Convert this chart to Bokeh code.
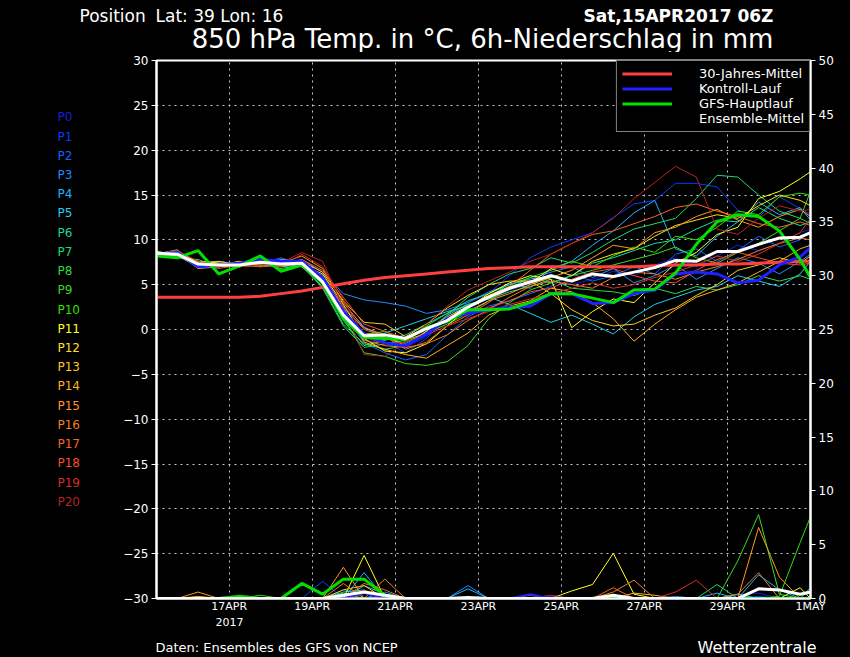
from bokeh.plotting import figure
from bokeh.layouts import column, row
from bokeh.models import Range1d, LinearAxis, FixedTicker, Legend, LegendItem
from bokeh.core.properties import value
from bokeh.embed import file_html
from bokeh.resources import INLINE

# ---------------- data ----------------
# time in "day of April 2017" (UTC), 12-hourly from 15APR 06Z to 1MAY 00Z
days = [15.25, 15.75, 16.25, 16.75, 17.25, 17.75, 18.25, 18.75, 19.25, 19.75,
        20.25, 20.75, 21.25, 21.75, 22.25, 22.75, 23.25, 23.75, 24.25, 24.75,
        25.25, 25.75, 26.25, 26.75, 27.25, 27.75, 28.25, 28.75, 29.25, 29.75,
        30.25, 30.75, 31.0]

date_ticks = [17, 19, 21, 23, 25, 27, 29, 31]
date_labels = ["17APR", "19APR", "21APR", "23APR", "25APR", "27APR", "29APR", "1MAY"]
temp_ticks = [-30, -25, -20, -15, -10, -5, 0, 5, 10, 15, 20, 25, 30]
rain_ticks = [0, 5, 10, 15, 20, 25, 30, 35, 40, 45, 50]

member_names = ["P0", "P1", "P2", "P3", "P4", "P5", "P6", "P7", "P8", "P9", "P10",
                "P11", "P12", "P13", "P14", "P15", "P16", "P17", "P18", "P19", "P20"]
member_colors = ["#1c1cd8", "#0a3cff", "#1464ff", "#1e8cff", "#20b4ff", "#20d0e8",
                 "#20d8a0", "#20d870", "#30d848", "#3cd828", "#30e000", "#ffff20",
                 "#ffe020", "#ffc820", "#ffb020", "#ff9820", "#f08020", "#f06820",
                 "#f05030", "#d83020", "#b82020"]

# 850 hPa temperature (deg C) of the ensemble members
t00 = [8.3, 8.6, 7.0, 7.4, 7.0, 7.8, 7.2, 7.6, 5.0, 1.2, -1.2, -1.5, -2.0, -0.8, 0.8, 2.2, 3.0, 4.4, 5.0, 6.2, 5.0, 5.6, 6.5, 6.0, 7.2, 8.0, 7.0, 8.2, 9.4, 8.8, 9.6, 10.8, 11.2]
t01 = [8.6, 8.2, 7.4, 7.0, 7.6, 7.2, 7.9, 7.0, 6.0, 2.6, 0.4, -1.4, -2.6, -1.0, 1.2, 3.0, 4.0, 6.0, 8.0, 9.2, 10.0, 10.8, 12.5, 14.0, 14.4, 16.3, 16.3, 15.9, 13.3, 12.5, 14.8, 13.5, 12.8]
t02 = [8.4, 8.8, 7.2, 7.6, 7.3, 7.4, 8.0, 7.2, 5.4, 1.8, -1.5, -2.6, -3.4, -2.8, -0.6, 1.4, 2.6, 3.2, 4.0, 4.8, 6.2, 5.4, 6.0, 7.0, 6.2, 8.4, 9.0, 7.6, 8.8, 10.4, 9.2, 10.0, 11.0]
t03 = [8.2, 8.4, 7.6, 7.2, 7.4, 7.0, 7.4, 7.8, 6.4, 4.0, 3.3, 3.0, 2.6, 1.8, 2.2, 3.0, 4.2, 5.0, 5.6, 6.4, 7.0, 5.8, 6.8, 5.2, 6.0, 7.2, 5.6, 6.8, 8.0, 7.4, 6.2, 7.6, 8.4]
t04 = [8.5, 8.2, 7.0, 7.0, 7.2, 7.6, 7.0, 7.2, 5.8, 2.4, 0.2, -0.8, -1.6, -0.2, 1.6, 2.8, 3.4, 5.2, 4.6, 6.8, 7.6, 9.4, 11.0, 13.0, 14.4, 9.0, 8.2, 10.4, 12.0, 14.2, 12.8, 13.6, 12.2]
t05 = [8.6, 8.5, 7.2, 7.3, 7.0, 7.4, 7.6, 7.0, 5.6, 1.4, -1.0, -0.4, 0.4, 1.2, 2.0, 2.6, 3.6, 2.8, 1.8, 0.8, 1.6, 0.6, -0.5, 1.4, 2.8, 3.6, 4.4, 4.8, 6.0, 5.4, 4.8, 6.2, 7.6]
t06 = [8.7, 8.3, 7.6, 7.4, 7.2, 7.2, 7.2, 7.6, 5.2, 1.0, -1.8, -1.2, -0.6, 0.6, 1.8, 3.2, 4.0, 5.0, 5.8, 5.2, 6.0, 7.4, 8.0, 8.8, 9.6, 10.0, 11.2, 12.2, 12.0, 13.6, 12.4, 11.6, 12.0]
t07 = [8.8, 8.0, 7.8, 7.0, 7.4, 7.6, 7.4, 7.0, 4.8, 0.6, -1.6, -2.2, -1.8, -0.6, 1.6, 3.6, 5.0, 6.2, 6.8, 8.0, 7.4, 8.6, 10.0, 11.2, 11.8, 12.4, 14.6, 17.2, 17.0, 15.0, 13.2, 12.4, 11.8]
t08 = [8.4, 8.9, 7.0, 7.2, 7.0, 7.4, 6.8, 7.2, 4.6, 0.4, -2.0, -1.6, -1.2, 0.4, 1.8, 2.8, 3.4, 4.2, 4.8, 5.6, 4.6, 4.4, 4.2, 3.8, 4.6, 4.0, 4.8, 4.4, 5.0, 6.0, 5.4, 6.0, 5.6]
t09 = [8.6, 8.3, 7.4, 7.6, 7.2, 7.0, 7.2, 7.4, 5.0, 1.4, -2.6, -3.0, -3.8, -4.0, -3.6, -1.8, 1.2, 3.0, 4.4, 5.2, 6.0, 6.6, 7.2, 7.8, 8.4, 9.2, 8.0, 7.4, 8.6, 9.6, 11.0, 12.4, 15.4]
t10 = [8.5, 8.6, 7.2, 7.0, 7.4, 7.2, 7.0, 7.6, 5.6, 2.0, -0.6, -0.2, -1.4, -0.4, 0.6, 1.8, 3.2, 4.6, 5.8, 6.6, 7.6, 7.0, 8.2, 9.2, 8.6, 10.4, 10.0, 11.4, 13.2, 12.8, 14.8, 15.2, 15.0]
t11 = [8.3, 8.6, 7.6, 7.4, 7.0, 7.6, 7.4, 7.2, 6.2, 2.8, -1.0, -2.4, -2.6, -1.6, 0.4, 2.4, 4.0, 5.2, 6.0, 5.6, 0.2, 2.0, 3.4, 3.0, 5.2, 7.4, 8.6, 10.6, 11.4, 14.6, 15.4, 16.8, 17.6]
t12 = [8.2, 8.4, 7.0, 7.2, 7.6, 7.4, 7.6, 7.0, 5.4, 1.6, -0.4, -0.8, -1.8, -0.2, 1.4, 2.6, 3.8, 4.8, 5.2, 6.8, 6.0, 7.6, 8.4, 9.0, 10.4, 11.6, 12.2, 12.8, 12.4, 13.8, 15.0, 14.4, 13.8]
t13 = [8.6, 8.2, 7.4, 7.6, 7.2, 7.2, 7.8, 7.6, 6.4, 3.2, 0.8, 0.6, -0.8, 0.6, 2.4, 3.8, 5.0, 5.4, 5.4, 4.0, 2.2, 1.0, 0.4, 0.6, 1.6, 2.4, 3.8, 5.0, 6.6, 7.2, 8.0, 7.4, 8.2]
t14 = [8.4, 8.5, 6.8, 7.0, 7.2, 7.8, 7.0, 7.4, 6.0, 2.4, -1.4, -2.2, -2.8, -3.2, -1.8, -0.4, 1.6, 2.6, 3.2, 4.6, 4.2, 3.0, 1.2, -1.3, 0.6, 2.2, 3.6, 4.4, 5.2, 6.4, 7.6, 9.0, 9.4]
t15 = [8.5, 8.7, 7.2, 7.2, 7.0, 7.2, 7.4, 8.2, 6.8, 3.0, 0.2, -0.6, -1.2, -0.4, 1.0, 2.0, 3.2, 4.0, 5.0, 5.8, 6.6, 8.0, 9.4, 9.0, 10.8, 11.4, 12.6, 13.4, 12.2, 11.4, 12.6, 13.4, 12.6]
t16 = [8.7, 8.3, 7.0, 7.4, 7.4, 7.4, 7.2, 7.6, 5.6, 2.2, -1.2, -1.8, -2.0, -1.6, -0.6, 1.0, 2.2, 3.6, 4.8, 5.4, 5.0, 4.6, 5.8, 6.4, 6.2, 5.6, 6.4, 7.0, 7.8, 8.8, 9.6, 10.2, 10.0]
t17 = [8.4, 8.6, 7.4, 7.2, 7.0, 7.6, 7.6, 7.2, 5.8, 2.6, 0.0, -0.8, -2.2, -1.4, 0.4, 1.6, 3.0, 4.8, 6.6, 8.4, 9.6, 10.6, 11.0, 11.8, 12.6, 13.6, 14.0, 13.2, 12.6, 11.8, 11.4, 12.0, 11.6]
t18 = [8.6, 8.4, 7.2, 6.8, 7.2, 7.0, 7.2, 7.8, 6.6, 3.6, 0.6, -0.2, -1.0, 0.2, 1.2, 2.2, 2.4, 3.2, 4.2, 4.6, 5.6, 6.4, 6.8, 6.0, 5.4, 5.2, 6.6, 7.8, 8.6, 8.0, 7.4, 7.2, 7.4]
t19 = [8.5, 8.8, 7.6, 7.2, 7.4, 7.4, 7.0, 8.4, 7.0, 3.4, -0.8, -1.6, -1.4, -0.6, 0.4, 1.2, 2.0, 2.8, 3.4, 4.0, 4.6, 5.2, 4.6, 5.0, 5.8, 6.4, 7.2, 8.2, 7.6, 8.4, 9.6, 10.8, 12.4]
t20 = [8.3, 8.4, 7.0, 7.2, 7.0, 7.2, 7.4, 8.6, 7.6, 2.4, -2.8, -3.0, -1.4, 0.6, 2.6, 4.4, 5.4, 6.4, 7.6, 8.4, 9.6, 10.8, 12.4, 14.6, 16.4, 18.2, 17.0, 11.2, 10.6, 12.4, 13.8, 13.2, 13.4]
member_temps = [t00, t01, t02, t03, t04, t05, t06, t07, t08, t09, t10,
                t11, t12, t13, t14, t15, t16, t17, t18, t19, t20]

# 6h precipitation (mm) of the ensemble members
r00 = [0, 0, 0, 0, 0, 0, 0, 0, 0, 0.4, 0.6, 0, 0, 0, 0, 0, 0, 0, 0, 0.2, 0, 0, 0, 0, 0, 0, 0, 0, 0.3, 0.5, 0, 0, 0]
r01 = [0, 0, 0, 0, 0, 0, 0, 0, 1.6, 0, 0, 0, 0, 0, 0, 0, 0, 0, 0, 0.3, 0, 0, 0, 0, 0, 0, 0, 0, 0, 0.2, 0, 0, 0]
r02 = [0, 0, 0, 0, 0, 0, 0, 0, 0, 0.8, 0.5, 0, 0, 0, 0, 0, 0, 0, 0, 0, 0, 0, 0, 0, 0, 0, 0, 0, 0, 0, 0, 0, 0]
r03 = [0, 0, 0, 0, 0, 0, 0, 0, 0, 0, 0, 0.6, 0, 0, 0, 1.2, 0, 0, 0, 0, 0, 0, 0, 0, 0, 0.2, 0, 0, 0, 0, 0, 0, 0]
r04 = [0, 0, 0, 0, 0, 0, 0, 0, 0, 0, 2.4, 0, 0, 0, 0, 0.9, 0, 0, 0, 0, 0, 0, 0, 0, 0, 0, 0, 0.5, 0, 2.2, 0.8, 0, 0]
r05 = [0, 0, 0, 0, 0, 0, 0, 0, 0, 0, 1.2, 0.4, 0, 0, 0, 0, 0, 0, 0, 0, 0, 0, 0, 0, 0, 0, 0, 0, 0, 0, 0, 0, 1.0]
r06 = [0, 0, 0, 0, 0, 0, 0, 0, 0, 0.6, 0.8, 0, 0, 0, 0, 0, 0, 0, 0, 0, 0, 0, 0, 0, 0, 0, 0, 0, 0.4, 0, 0, 0, 0]
r07 = [0, 0, 0, 0, 0, 0, 0, 0, 0, 0, 0.5, 0, 0, 0, 0, 0, 0, 0, 0, 0, 0, 0, 0, 0, 0, 0, 0, 1.3, 0, 0, 0, 0, 0]
r08 = [0, 0, 0, 0, 0.2, 0, 0, 0, 0, 0.5, 0, 0, 0, 0, 0, 0, 0, 0, 0, 0, 0, 0, 0, 0, 0, 0, 0, 0, 0, 0, 0, 0, 0]
r09 = [0, 0, 0, 0, 0, 0, 0, 0, 0, 0, 0, 0, 0, 0, 0, 0, 0, 0, 0, 0, 0, 0, 0, 0, 0, 0, 0, 0, 3.5, 7.8, 0.4, 0, 0]
r10 = [0, 0, 0, 0, 0, 0.3, 0, 0, 0, 0, 0, 0, 0, 0, 0, 0, 0, 0, 0, 0, 0, 0, 0, 0, 0, 0, 0, 0, 0, 0, 0.2, 5.2, 7.6]
r11 = [0, 0, 0, 0, 0, 0, 0, 0, 0, 0, 4.0, 0, 0, 0, 0, 0, 0, 0, 0, 0, 0.7, 1.3, 4.2, 0.4, 0, 0, 0, 0, 0, 0, 0, 1.0, 0]
r12 = [0, 0, 0, 0, 0, 0, 0, 0, 0, 0, 0.6, 0, 0, 0, 0, 0, 0, 0, 0, 0, 0, 0, 0, 0, 0, 0, 0, 0, 0, 0, 0, 0, 0]
r13 = [0, 0, 0, 0, 0, 0, 0, 0, 0, 0.8, 1.2, 0, 0, 0, 0, 0, 0, 0, 0, 0, 0, 0, 0, 0, 0, 0, 0, 0, 0, 0, 0, 0, 0]
r14 = [0, 0, 0.2, 0, 0, 0, 0, 0, 0, 0, 0, 0, 0, 0, 0, 0, 0, 0, 0, 0, 0, 0, 0, 0.5, 0.3, 0, 0, 0, 0, 0, 0, 0, 0]
r15 = [0, 0, 0.6, 0, 0, 0, 0, 0, 0, 2.9, 0, 0, 0, 0, 0, 0, 0, 0, 0, 0, 0, 0, 0, 0, 0, 0, 0, 0, 0, 6.6, 2.0, 0, 0]
r16 = [0, 0, 0, 0, 0, 0, 0, 0, 0, 1.4, 0, 1.8, 0, 0, 0, 0, 0, 0, 0, 0, 0, 0, 0.6, 1.7, 0, 0, 0, 0, 0.4, 2.4, 0, 0, 0]
r17 = [0, 0, 0, 0, 0, 0, 0, 0, 0, 0, 1.4, 0.8, 0, 0, 0, 0, 0, 0, 0, 0, 0, 0, 1.0, 0, 0, 0, 0, 0, 0, 0, 0, 0, 0]
r18 = [0, 0, 0, 0, 0, 0, 0, 0, 0, 0, 0.6, 0, 0, 0, 0, 0, 0, 0, 0.3, 0, 0, 0, 0, 0, 0, 0, 0, 0, 0, 0, 0, 0, 0]
r19 = [0, 0, 0, 0, 0, 0, 0, 0, 0, 0, 0, 0, 0, 0, 0, 0, 0, 0, 0, 0, 0, 0, 0, 0, 0, 0.6, 1.7, 0, 0, 0, 0, 0, 0]
r20 = [0, 0, 0, 0, 0, 0, 0, 0, 0, 0, 0.8, 0, 0, 0, 0, 0, 0, 0, 0, 0.3, 0, 0, 0, 0, 0, 0, 0, 0, 0, 0, 0, 0, 0]
member_rain = [r00, r01, r02, r03, r04, r05, r06, r07, r08, r09, r10,
               r11, r12, r13, r14, r15, r16, r17, r18, r19, r20]

# highlighted series
clim_temp = [3.6, 3.6, 3.6, 3.6, 3.6, 3.7, 4.0, 4.3, 4.7, 5.1, 5.5, 5.8, 6.0, 6.2, 6.4, 6.6, 6.8, 6.9, 7.0, 7.0, 7.0, 7.0, 7.0, 7.0, 7.1, 7.2, 7.2, 7.3, 7.3, 7.4, 7.5, 7.6, 7.6]
ctrl_temp = [8.4, 8.6, 7.0, 7.2, 7.4, 7.8, 7.6, 7.6, 5.8, 2.0, -0.5, -1.5, -1.8, -0.5, 1.2, 1.8, 2.2, 2.5, 2.6, 4.0, 4.0, 2.9, 3.0, 4.0, 4.4, 6.2, 6.4, 6.2, 5.2, 5.5, 7.2, 8.1, 9.1]
gfs_temp = [8.2, 8.0, 8.8, 6.2, 7.1, 8.2, 6.5, 7.2, 5.2, 1.2, -0.9, -1.0, -1.1, 0.2, 0.9, 2.2, 2.2, 2.3, 3.0, 4.0, 4.0, 3.5, 3.0, 4.4, 4.5, 6.3, 9.5, 12.0, 12.8, 12.6, 11.0, 7.8, 5.8]
mean_temp = [8.5, 8.4, 7.3, 7.2, 7.2, 7.5, 7.3, 7.4, 5.3, 1.6, -0.7, -0.6, -1.0, 0.1, 1.0, 2.5, 3.6, 4.6, 5.3, 6.0, 5.4, 6.2, 5.9, 6.4, 6.9, 7.7, 7.6, 8.7, 8.7, 9.5, 10.2, 10.3, 10.8]
ctrl_rain = [0, 0, 0, 0, 0, 0, 0, 0, 0, 0, 0.5, 0, 0, 0, 0, 0, 0, 0, 0.4, 0, 0, 0, 0, 0, 0, 0, 0, 0, 0, 0, 0, 0, 0]
gfs_rain = [0, 0, 0, 0, 0.2, 0, 0, 1.4, 0.4, 1.8, 1.8, 0.3, 0, 0, 0, 0, 0, 0, 0, 0, 0, 0, 0, 0, 0, 0, 0, 0, 0, 0, 0, 0, 0]
mean_rain = [0, 0, 0, 0, 0, 0, 0, 0, 0, 0.3, 0.6, 0.3, 0, 0, 0, 0.1, 0, 0, 0, 0, 0, 0, 0.3, 0, 0, 0, 0, 0, 0, 0.9, 0.8, 0.4, 0.6]

legend_labels = ["30-Jahres-Mittel", "Kontroll-Lauf", "GFS-Hauptlauf", "Ensemble-Mittel"]
header_left = "Position"
header_pos = "Lat: 39 Lon: 16"
header_date = "Sat,15APR2017 06Z"
main_title = "850 hPa Temp. in \u00b0C, 6h-Niederschlag in mm"
year_label = "2017"
footer_left = "Daten: Ensembles des GFS von NCEP"
footer_right = "Wetterzentrale"

# ---------------- layout constants (page px) ----------------
FONT = "DejaVu Sans"
BLACK = {"background-color": "black"}
W, H = 850, 657
TOP_H = 52          # header strip
LEFT_W = 120        # strip with the member names
BOT_H = 42          # footer strip
MAIN_W = W - LEFT_W
MAIN_H = H - TOP_H - BOT_H
FRAME_L, FRAME_R, FRAME_T, FRAME_B = 36, 40, 8, 15   # borders of the main figure


def text_canvas(w, h, y_top, y_bottom):
    f = figure(width=w, height=h, output_backend="svg", toolbar_location=None,
               x_range=Range1d(0, w), y_range=Range1d(y_bottom, y_top),
               x_axis_location=None, y_axis_location=None, min_border=0,
               background_fill_color="black", border_fill_color="black",
               outline_line_color=None, styles=BLACK)
    f.grid.visible = False
    return f


def put_text(f, x, y, texts, colors, size, align="left", style="normal"):
    f.text(x=x, y=y, text=texts, text_color=colors, text_font=value(FONT),
           text_font_size=value(size), text_align=align, text_baseline="middle",
           text_font_style=style)


# header strip (page y 0..52; coordinates = page px)
top = text_canvas(W, TOP_H, 0, TOP_H)
put_text(top, [79, 155], [15, 15], [header_left, header_pos], ["white", "white"], "17px")
put_text(top, [583], [15], [header_date], ["white"], "17px", style="bold")
put_text(top, [482], [38], [main_title], ["white"], "26px", align="center")

# left strip with member names; its frame is aligned with the chart frame (page y 60..600)
left = text_canvas(LEFT_W, MAIN_H, TOP_H + FRAME_T, H - BOT_H - FRAME_B)
put_text(left, [57] * len(member_names), [117 + 19.3 * i for i in range(len(member_names))],
         member_names, member_colors, "12px")

# footer strip (page y 615..657; local coordinates)
bot = text_canvas(W, BOT_H, 0, BOT_H)
put_text(bot, [229], [6], [year_label], ["white"], "11px", align="center")
put_text(bot, [155], [32], [footer_left], ["white"], "13px")
put_text(bot, [697], [32], [footer_right], ["white"], "16px")

# ---------------- main chart ----------------
p = figure(width=MAIN_W, height=MAIN_H, output_backend="svg", toolbar_location=None,
           x_range=Range1d(days[0], days[-1]), y_range=Range1d(-30, 30),
           min_border_left=FRAME_L, min_border_right=FRAME_R, min_border_top=FRAME_T,
           min_border_bottom=FRAME_B, styles=BLACK,
           background_fill_color="black", border_fill_color="black",
           outline_line_color="white", outline_line_width=2)
p.extra_y_ranges = {"pr": Range1d(0, 50)}

p.xaxis.ticker = FixedTicker(ticks=date_ticks)
p.xaxis.major_label_overrides = {t: l for t, l in zip(date_ticks, date_labels)}
p.yaxis.ticker = FixedTicker(ticks=temp_ticks)
p.yaxis.major_label_overrides = {t: ("\u2212" + str(-t)) for t in temp_ticks if t < 0}
ax_r = LinearAxis(y_range_name="pr", ticker=FixedTicker(ticks=rain_ticks))
p.add_layout(ax_r, "right")
for ax in [p.xaxis[0], p.yaxis[0], ax_r]:
    ax.axis_line_color = "white"
    ax.axis_line_width = 2
    ax.major_tick_line_color = "white"
    ax.major_tick_line_width = 1
    ax.major_tick_out = 5
    ax.major_tick_in = 0
    ax.minor_tick_line_color = None
    ax.major_label_text_color = "white"
    ax.major_label_text_font = FONT
    ax.major_label_text_font_size = "12px"
    ax.major_label_standoff = 3
p.xaxis.major_tick_out = 0
p.xaxis.major_label_text_font_size = "11px"
p.xaxis.major_label_standoff = 1

p.xgrid.ticker = FixedTicker(ticks=date_ticks[:-1])
p.ygrid.ticker = FixedTicker(ticks=temp_ticks[1:-1])
for g in [p.xgrid[0], p.ygrid[0]]:
    g.grid_line_color = "#c8c8c8"
    g.grid_line_dash = "2 4"
    g.grid_line_width = 1

# precipitation (right axis)
for rain, col in zip(member_rain, member_colors):
    p.line(days, rain, line_color=col, line_width=1, y_range_name="pr")
p.line(days, ctrl_rain, line_color="#2020ff", line_width=2, y_range_name="pr")
p.line(days, gfs_rain, line_color="#00e000", line_width=3, y_range_name="pr")
p.line(days, mean_rain, line_color="white", line_width=3, y_range_name="pr")

# temperature
for temps, col in zip(member_temps, member_colors):
    p.line(days, temps, line_color=col, line_width=1)
r_clim = p.line(days, clim_temp, line_color="#ff4040", line_width=3)
r_ctrl = p.line(days, ctrl_temp, line_color="#2020ff", line_width=3)
r_gfs = p.line(days, gfs_temp, line_color="#00e000", line_width=3)
p.line(days, mean_temp, line_color="white", line_width=3)
r_mean_key = p.line([], [], line_color="#a8a8a8", line_width=3)

legend = Legend(items=[LegendItem(label=legend_labels[0], renderers=[r_clim]),
                       LegendItem(label=legend_labels[1], renderers=[r_ctrl]),
                       LegendItem(label=legend_labels[2], renderers=[r_gfs]),
                       LegendItem(label=legend_labels[3], renderers=[r_mean_key])],
                location="top_right", margin=0, padding=5, spacing=0,
                glyph_width=50, glyph_height=13, label_height=13, label_width=100,
                label_standoff=27, background_fill_color="black", background_fill_alpha=1,
                border_line_color="white", border_line_width=1.5,
                label_text_color="white", label_text_font=FONT, label_text_font_size="13px")
p.add_layout(legend)

page = column(top, row(left, p, styles=BLACK), bot, styles=BLACK)
open("out.html", "w").write(file_html(page, INLINE))
